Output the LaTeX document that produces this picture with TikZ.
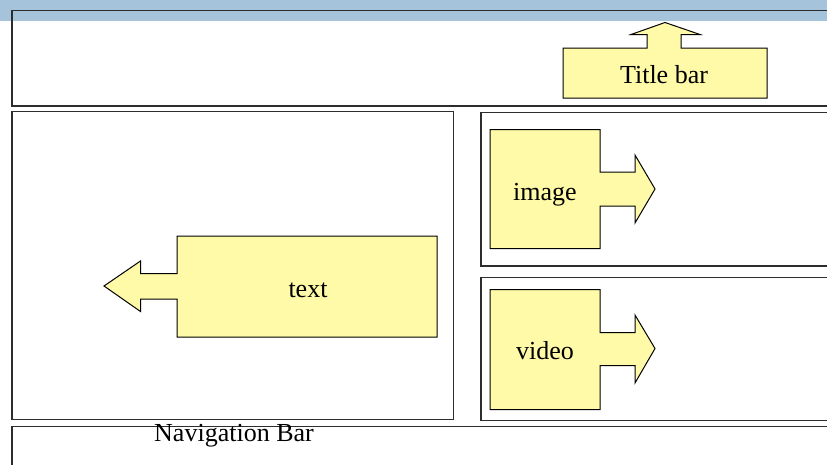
\documentclass[tikz,border=0pt]{standalone}
\usepackage{fontspec}
\setmainfont{Liberation Serif}
\definecolor{bandblue}{RGB}{165,195,218}
\definecolor{noteyellow}{RGB}{255,250,168}
\definecolor{framegray}{RGB}{45,45,45}
\begin{document}
\begin{tikzpicture}[x=0.75pt,y=-0.75pt,
  frame/.style={draw=framegray, line width=0.9pt},
  callout/.style={draw=black, line width=0.75pt, fill=noteyellow, line join=miter},
  lbl/.style={font=\fontsize{19.5}{23}\selectfont, anchor=base, inner sep=0pt}]
\useasboundingbox (0,0) rectangle (827,464);
\clip (0,0) rectangle (827,464);

% header band
\fill[bandblue] (0,0) rectangle (827,21);

% page regions
\draw[frame] (12,10.5) rectangle (840,106);
\draw[frame] (12,111.5) rectangle (453.5,419.5);
\draw[frame] (481,112.5) rectangle (840,266);
\draw[frame] (481,277.5) rectangle (840,420.5);
\draw[frame] (12,426.5) rectangle (840,480);

% title callout (arrow pointing up)
\draw[callout] (563,48) -- (647,48) -- (647,34.5) -- (631,34.5) -- (665,22.5)
  -- (700,34.5) -- (681,34.5) -- (681,48) -- (767,48) -- (767,98) -- (563,98) -- cycle;
\node[lbl] (title) at (664,83.5) {Title bar};

% image callout (arrow pointing right)
\draw[callout] (490,129.5) -- (600,129.5) -- (600,172) -- (635,172) -- (635,155)
  -- (655,189) -- (635,223) -- (635,206) -- (600,206) -- (600,248.5) -- (490,248.5) -- cycle;
\node[lbl] (image) at (545,200) {image};

% video callout (arrow pointing right)
\draw[callout] (490,289.5) -- (600,289.5) -- (600,332.5) -- (635,332.5) -- (635,315)
  -- (655,348.5) -- (635,383) -- (635,365.5) -- (600,365.5) -- (600,409.5) -- (490,409.5) -- cycle;
\node[lbl] (video) at (545,359.5) {video};

% text callout (arrow pointing left)
\draw[callout] (177,236) -- (437,236) -- (437,337) -- (177,337) -- (177,299)
  -- (140.5,299) -- (140.5,311.5) -- (104,286) -- (140.5,261) -- (140.5,273.5) -- (177,273.5) -- cycle;
\node[lbl] (text) at (308,297) {text};

% navigation bar caption
\node[lbl] (nav) at (234,441.5) {Navigation Bar};
\end{tikzpicture}
\end{document}
